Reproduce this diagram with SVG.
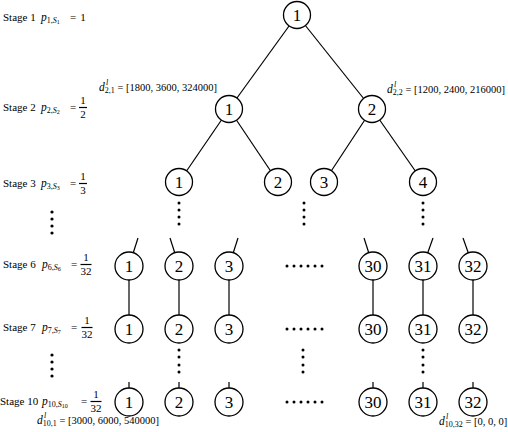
<svg xmlns="http://www.w3.org/2000/svg" width="508" height="432" viewBox="0 0 508 432">
<style>
.t{font-family:"Liberation Serif","DejaVu Serif",serif;font-size:11px;fill:#000}
.m{font-family:"Liberation Serif","DejaVu Serif",serif;font-size:11.5px;font-style:italic;fill:#000}
.s{font-size:8px}
.ss{font-size:6px}
.n{font-family:"Liberation Serif","DejaVu Serif",serif;font-size:17px;fill:#000;text-anchor:middle}
.c{fill:#fff;stroke:#000;stroke-width:1.3}
.e{stroke:#000;stroke-width:1.2;fill:none}
.d{fill:#000}
.f{text-anchor:middle}
</style>
<rect width="508" height="432" fill="#fff"/>

<g id="connectors">
<line class="e" x1="297" y1="15" x2="229" y2="109"/>
<line class="e" x1="297" y1="15" x2="372" y2="109"/>
<line class="e" x1="229" y1="109" x2="179" y2="182"/>
<line class="e" x1="229" y1="109" x2="278" y2="182"/>
<line class="e" x1="372" y1="109" x2="324" y2="182"/>
<line class="e" x1="372" y1="109" x2="423" y2="182"/>
<line class="e" x1="138" y1="238" x2="129" y2="266"/>
<line class="e" x1="170" y1="238" x2="179" y2="266"/>
<line class="e" x1="238" y1="238" x2="229" y2="266"/>
<line class="e" x1="364" y1="238" x2="373" y2="266"/>
<line class="e" x1="433" y1="238" x2="423" y2="266"/>
<line class="e" x1="463" y1="238" x2="473" y2="266"/>
<line class="e" x1="129" y1="266" x2="129" y2="329"/>
<line class="e" x1="179" y1="266" x2="179" y2="329"/>
<line class="e" x1="229" y1="266" x2="229" y2="329"/>
<line class="e" x1="373" y1="266" x2="373" y2="329"/>
<line class="e" x1="423" y1="266" x2="423" y2="329"/>
<line class="e" x1="473" y1="266" x2="473" y2="329"/>
<line class="e" x1="129" y1="382" x2="129" y2="402"/>
<line class="e" x1="179" y1="382" x2="179" y2="402"/>
<line class="e" x1="229" y1="382" x2="229" y2="402"/>
<line class="e" x1="373" y1="382" x2="373" y2="402"/>
<line class="e" x1="423" y1="382" x2="423" y2="402"/>
<line class="e" x1="473" y1="382" x2="473" y2="402"/>
</g>

<g id="dots">
<g id="vdots-left-a"><circle class="d" cx="52" cy="212" r="1.6"/><circle class="d" cx="52" cy="219" r="1.6"/><circle class="d" cx="52" cy="226" r="1.6"/><circle class="d" cx="52" cy="233" r="1.6"/></g>
<g id="vdots-left-b"><circle class="d" cx="52" cy="355" r="1.6"/><circle class="d" cx="52" cy="362" r="1.6"/><circle class="d" cx="52" cy="369" r="1.6"/><circle class="d" cx="52" cy="376" r="1.6"/></g>
<g id="vdots-3-6">
<circle class="d" cx="179" cy="203" r="1.5"/><circle class="d" cx="179" cy="210" r="1.5"/><circle class="d" cx="179" cy="217" r="1.5"/><circle class="d" cx="179" cy="224" r="1.5"/>
<circle class="d" cx="304" cy="203" r="1.5"/><circle class="d" cx="304" cy="210" r="1.5"/><circle class="d" cx="304" cy="217" r="1.5"/><circle class="d" cx="304" cy="224" r="1.5"/>
<circle class="d" cx="423" cy="203" r="1.5"/><circle class="d" cx="423" cy="210" r="1.5"/><circle class="d" cx="423" cy="217" r="1.5"/><circle class="d" cx="423" cy="224" r="1.5"/>
</g>
<g id="vdots-7-10">
<circle class="d" cx="179" cy="350" r="1.5"/><circle class="d" cx="179" cy="357" r="1.5"/><circle class="d" cx="179" cy="365" r="1.5"/><circle class="d" cx="179" cy="372" r="1.5"/>
<circle class="d" cx="303" cy="350" r="1.5"/><circle class="d" cx="303" cy="357" r="1.5"/><circle class="d" cx="303" cy="365" r="1.5"/><circle class="d" cx="303" cy="372" r="1.5"/>
<circle class="d" cx="423" cy="350" r="1.5"/><circle class="d" cx="423" cy="357" r="1.5"/><circle class="d" cx="423" cy="365" r="1.5"/><circle class="d" cx="423" cy="372" r="1.5"/>
</g>
<g id="hdots">
<circle class="d" cx="287" cy="266" r="1.5"/><circle class="d" cx="294" cy="266" r="1.5"/><circle class="d" cx="301" cy="266" r="1.5"/><circle class="d" cx="308" cy="266" r="1.5"/><circle class="d" cx="315" cy="266" r="1.5"/><circle class="d" cx="322" cy="266" r="1.5"/>
<circle class="d" cx="287" cy="329" r="1.5"/><circle class="d" cx="294" cy="329" r="1.5"/><circle class="d" cx="301" cy="329" r="1.5"/><circle class="d" cx="308" cy="329" r="1.5"/><circle class="d" cx="315" cy="329" r="1.5"/><circle class="d" cx="322" cy="329" r="1.5"/>
<circle class="d" cx="287" cy="402" r="1.5"/><circle class="d" cx="294" cy="402" r="1.5"/><circle class="d" cx="301" cy="402" r="1.5"/><circle class="d" cx="308" cy="402" r="1.5"/><circle class="d" cx="315" cy="402" r="1.5"/><circle class="d" cx="322" cy="402" r="1.5"/>
</g>
</g>

<g id="n-root"><circle class="c" cx="297" cy="15" r="13.5"/><text class="n" x="297" y="21">1</text></g>
<g id="n-2-1"><circle class="c" cx="229" cy="109" r="13.5"/><text class="n" x="229" y="115">1</text></g>
<g id="n-2-2"><circle class="c" cx="372" cy="109" r="13.5"/><text class="n" x="372" y="115">2</text></g>
<g id="n-3-1"><circle class="c" cx="179" cy="182" r="13.5"/><text class="n" x="179" y="188">1</text></g>
<g id="n-3-2"><circle class="c" cx="278" cy="182" r="13.5"/><text class="n" x="278" y="188">2</text></g>
<g id="n-3-3"><circle class="c" cx="324" cy="182" r="13.5"/><text class="n" x="324" y="188">3</text></g>
<g id="n-3-4"><circle class="c" cx="423" cy="182" r="13.5"/><text class="n" x="423" y="188">4</text></g>

<g id="n-6-1"><circle class="c" cx="129" cy="266" r="14"/><text class="n" x="129" y="272">1</text></g>
<g id="n-6-2"><circle class="c" cx="179" cy="266" r="14"/><text class="n" x="179" y="272">2</text></g>
<g id="n-6-3"><circle class="c" cx="229" cy="266" r="14"/><text class="n" x="229" y="272">3</text></g>
<g id="n-6-30"><circle class="c" cx="373" cy="266" r="14"/><text class="n" x="373" y="272">30</text></g>
<g id="n-6-31"><circle class="c" cx="423" cy="266" r="14"/><text class="n" x="423" y="272">31</text></g>
<g id="n-6-32"><circle class="c" cx="473" cy="266" r="14"/><text class="n" x="473" y="272">32</text></g>

<g id="n-7-1"><circle class="c" cx="129" cy="329" r="14"/><text class="n" x="129" y="335">1</text></g>
<g id="n-7-2"><circle class="c" cx="179" cy="329" r="14"/><text class="n" x="179" y="335">2</text></g>
<g id="n-7-3"><circle class="c" cx="229" cy="329" r="14"/><text class="n" x="229" y="335">3</text></g>
<g id="n-7-30"><circle class="c" cx="373" cy="329" r="14"/><text class="n" x="373" y="335">30</text></g>
<g id="n-7-31"><circle class="c" cx="423" cy="329" r="14"/><text class="n" x="423" y="335">31</text></g>
<g id="n-7-32"><circle class="c" cx="473" cy="329" r="14"/><text class="n" x="473" y="335">32</text></g>

<g id="n-10-1"><circle class="c" cx="129" cy="402" r="14"/><text class="n" x="129" y="408">1</text></g>
<g id="n-10-2"><circle class="c" cx="179" cy="402" r="14"/><text class="n" x="179" y="408">2</text></g>
<g id="n-10-3"><circle class="c" cx="229" cy="402" r="14"/><text class="n" x="229" y="408">3</text></g>
<g id="n-10-30"><circle class="c" cx="373" cy="402" r="14"/><text class="n" x="373" y="408">30</text></g>
<g id="n-10-31"><circle class="c" cx="423" cy="402" r="14"/><text class="n" x="423" y="408">31</text></g>
<g id="n-10-32"><circle class="c" cx="473" cy="402" r="14"/><text class="n" x="473" y="408">32</text></g>

<g id="stage-labels">
<g id="stage1">
<text class="t" x="3" y="21">Stage 1</text>
<text class="m" x="41" y="21">p<tspan class="s" font-style="normal" dy="2">1,</tspan><tspan class="s">S</tspan><tspan class="ss" font-style="normal" dy="1">1</tspan></text>
<text class="t f" x="73" y="21">=</text><text class="t f" x="83" y="21">1</text>
</g>
<g id="stage2">
<text class="t" x="3" y="111">Stage 2</text>
<text class="m" x="41" y="111">p<tspan class="s" font-style="normal" dy="2">2,</tspan><tspan class="s">S</tspan><tspan class="ss" font-style="normal" dy="1">2</tspan></text>
<text class="t f" x="73" y="111">=</text>
<text class="t f" x="83" y="104">1</text><line class="e" x1="79" y1="107.5" x2="87" y2="107.5" stroke-width="0.6"/><text class="t f" x="83" y="118">2</text>
</g>
<g id="stage3">
<text class="t" x="3" y="187">Stage 3</text>
<text class="m" x="41" y="187">p<tspan class="s" font-style="normal" dy="2">3,</tspan><tspan class="s">S</tspan><tspan class="ss" font-style="normal" dy="1">3</tspan></text>
<text class="t f" x="73" y="187">=</text>
<text class="t f" x="83" y="180">1</text><line class="e" x1="79" y1="183.5" x2="87" y2="183.5" stroke-width="0.6"/><text class="t f" x="83" y="194">3</text>
</g>
<g id="stage6">
<text class="t" x="3" y="268">Stage 6</text>
<text class="m" x="42" y="268">p<tspan class="s" font-style="normal" dy="2">6,</tspan><tspan class="s">S</tspan><tspan class="ss" font-style="normal" dy="1">6</tspan></text>
<text class="t f" x="74" y="268">=</text>
<text class="t f" x="86" y="261">1</text><line class="e" x1="80.5" y1="264.5" x2="91.5" y2="264.5" stroke-width="0.6"/><text class="t f" x="86" y="275">32</text>
</g>
<g id="stage7">
<text class="t" x="3" y="331">Stage 7</text>
<text class="m" x="42" y="331">p<tspan class="s" font-style="normal" dy="2">7,</tspan><tspan class="s">S</tspan><tspan class="ss" font-style="normal" dy="1">7</tspan></text>
<text class="t f" x="74" y="331">=</text>
<text class="t f" x="87" y="324">1</text><line class="e" x1="81.5" y1="327.5" x2="92.5" y2="327.5" stroke-width="0.6"/><text class="t f" x="87" y="338">32</text>
</g>
<g id="stage10">
<text class="t" x="0" y="405" font-size="10.5px">Stage 10</text>
<text class="m" x="42" y="405">p<tspan class="s" font-style="normal" dy="2">10,</tspan><tspan class="s">S</tspan><tspan class="ss" font-style="normal" dy="1">10</tspan></text>
<text class="t f" x="84" y="405">=</text>
<text class="t f" x="96" y="398">1</text><line class="e" x1="90.5" y1="401.5" x2="101.5" y2="401.5" stroke-width="0.6"/><text class="t f" x="96" y="412">32</text>
</g>
</g>

<g id="d-labels">
<g id="d21">
<text class="m" x="99" y="91">d<tspan class="s" font-style="normal" dy="2">2,1</tspan><tspan font-style="normal" font-size="10.5px" dy="-2"> = [1800, 3600, 324000]</tspan></text>
<text class="m s" x="106" y="85">l</text>
</g>
<g id="d22">
<text class="m" x="387" y="93">d<tspan class="s" font-style="normal" dy="2">2,2</tspan><tspan font-style="normal" font-size="10.5px" dy="-2"> = [1200, 2400, 216000]</tspan></text>
<text class="m s" x="394" y="87">l</text>
</g>
<g id="d101">
<text class="m" x="37" y="424">d<tspan class="s" font-style="normal" dy="2">10,1</tspan><tspan font-style="normal" font-size="10.5px" dy="-2"> = [3000, 6000, 540000]</tspan></text>
<text class="m s" x="44" y="418">l</text>
</g>
<g id="d1032">
<text class="m" x="439" y="425">d<tspan class="s" font-style="normal" dy="2">10,32</tspan><tspan font-style="normal" font-size="10.5px" dy="-2"> = [0, 0, 0]</tspan></text>
<text class="m s" x="446" y="419">l</text>
</g>
</g>
</svg>
